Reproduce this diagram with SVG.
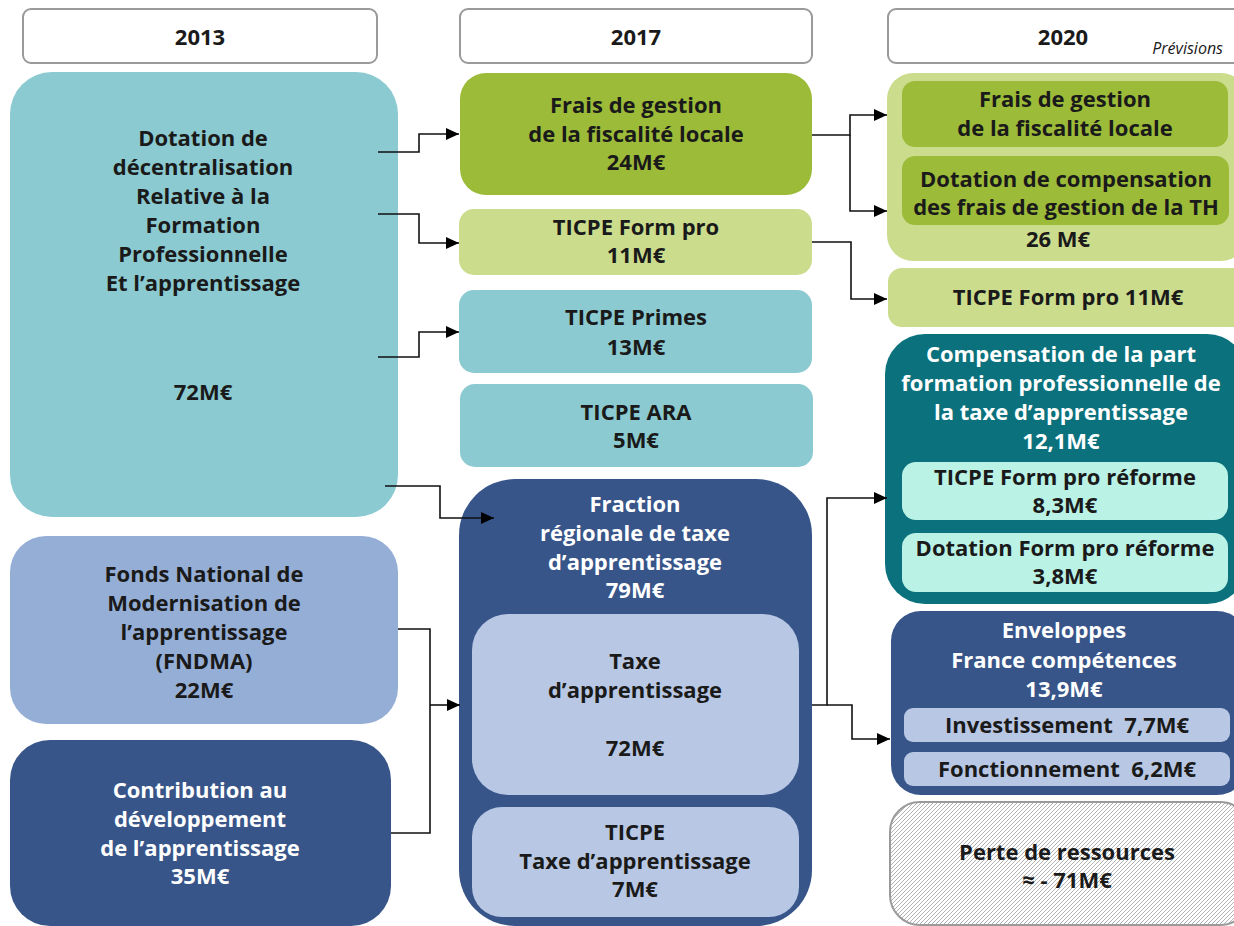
<svg xmlns="http://www.w3.org/2000/svg" width="1234" height="926" viewBox="0 0 1234 926">
<defs>
<style>
.t{font-family:"Open Sans","Liberation Sans",sans-serif;font-weight:700;font-size:22px;text-anchor:middle;fill:#1a1a1a}
.w{fill:#ffffff}
.pre{white-space:pre}
.hdr{fill:#ffffff;stroke:#9a9a9a;stroke-width:2}
.conn path{fill:none;stroke:#111;stroke-width:1.6}
</style>
<marker id="ah" markerUnits="userSpaceOnUse" markerWidth="13" markerHeight="12" refX="13" refY="6" orient="auto">
<path d="M0,0 L13,6 L0,12 z" fill="#000"/>
</marker>
<pattern id="hatch" patternUnits="userSpaceOnUse" width="4" height="4">
<rect width="4" height="4" fill="#ffffff"/>
<path d="M-1,1 L1,-1 M0,4 L4,0 M3,5 L5,3" stroke="#a0a0a0" stroke-width="0.8"/>
</pattern>
</defs>
<rect width="1234" height="926" fill="#ffffff"/>

<g id="headers">
<g id="h2013"><rect class="hdr" x="23" y="9" width="354" height="54" rx="8"/><text class="t" x="200" y="45">2013</text></g>
<g id="h2017"><rect class="hdr" x="460" y="9" width="352" height="54" rx="8"/><text class="t" x="636" y="45">2017</text></g>
<g id="h2020"><rect class="hdr" x="888" y="9" width="360" height="54" rx="8"/><text class="t" x="1063" y="45">2020</text>
<text x="1223" y="54" style="font-family:'Open Sans','Liberation Sans',sans-serif;font-style:italic;font-size:16px;text-anchor:end;fill:#1a1a1a">Prévisions</text></g>
</g>

<g id="n-dotation">
<rect x="10" y="72" width="388" height="445" rx="42" fill="#8BCAD0"/>
<text class="t"><tspan x="203" y="146">Dotation de</tspan><tspan x="203" y="175">décentralisation</tspan><tspan x="203" y="204">Relative à la</tspan><tspan x="203" y="233">Formation</tspan><tspan x="203" y="262">Professionnelle</tspan><tspan x="203" y="291">Et l’apprentissage</tspan><tspan x="203" y="400">72M€</tspan></text>
</g>

<g id="n-fndma">
<rect x="10" y="536" width="388" height="188" rx="36" fill="#95AED6"/>
<text class="t"><tspan x="204" y="582">Fonds National de</tspan><tspan x="204" y="611">Modernisation de</tspan><tspan x="204" y="640">l’apprentissage</tspan><tspan x="204" y="669">(FNDMA)</tspan><tspan x="204" y="698">22M€</tspan></text>
</g>

<g id="n-contribution">
<rect x="10" y="740" width="381" height="186" rx="40" fill="#38558A"/>
<text class="t w"><tspan x="200" y="798">Contribution au</tspan><tspan x="200" y="827">développement</tspan><tspan x="200" y="856">de l’apprentissage</tspan><tspan x="200" y="884">35M€</tspan></text>
</g>

<g id="n-frais2017">
<rect x="460" y="73" width="352" height="122" rx="26" fill="#9CBB39"/>
<text class="t"><tspan x="636" y="113">Frais de gestion</tspan><tspan x="636" y="142">de la fiscalité locale</tspan><tspan x="636" y="170">24M€</tspan></text>
</g>

<g id="n-formpro2017">
<rect x="459" y="209" width="353" height="66" rx="15" fill="#CBDC8D"/>
<text class="t"><tspan x="636" y="235">TICPE Form pro</tspan><tspan x="636" y="263">11M€</tspan></text>
</g>

<g id="n-primes">
<rect x="459" y="290" width="353" height="83" rx="15" fill="#8BCAD0"/>
<text class="t"><tspan x="636" y="325">TICPE Primes</tspan><tspan x="636" y="355">13M€</tspan></text>
</g>

<g id="n-ara">
<rect x="460" y="384" width="353" height="83" rx="15" fill="#8BCAD0"/>
<text class="t"><tspan x="636" y="420">TICPE ARA</tspan><tspan x="636" y="448">5M€</tspan></text>
</g>

<g id="n-fraction">
<rect x="459" y="479" width="353" height="447" rx="56" fill="#38558A"/>
<text class="t w"><tspan x="635" y="512">Fraction</tspan><tspan x="635" y="541">régionale de taxe</tspan><tspan x="635" y="570">d’apprentissage</tspan><tspan x="635" y="598">79M€</tspan></text>
<g id="n-taxe">
<rect x="472" y="614" width="327" height="181" rx="36" fill="#B8C8E4"/>
<text class="t"><tspan x="635" y="669">Taxe</tspan><tspan x="635" y="698">d’apprentissage</tspan><tspan x="635" y="756">72M€</tspan></text>
</g>
<g id="n-ticpe-taxe">
<rect x="472" y="807" width="327" height="110" rx="30" fill="#B8C8E4"/>
<text class="t"><tspan x="635" y="840">TICPE</tspan><tspan x="635" y="869">Taxe d’apprentissage</tspan><tspan x="635" y="897">7M€</tspan></text>
</g>
</g>

<g id="n-frais2020">
<rect x="887" y="73" width="360" height="188" rx="26" fill="#CBDC8D"/>
<g id="n-frais2020-a">
<rect x="902" y="81" width="326" height="66" rx="13" fill="#9CBB39"/>
<text class="t"><tspan x="1065" y="107">Frais de gestion</tspan><tspan x="1065" y="136">de la fiscalité locale</tspan></text>
</g>
<g id="n-frais2020-b">
<rect x="902" y="156" width="327" height="69" rx="13" fill="#9CBB39"/>
<text class="t"><tspan x="1066" y="187">Dotation de compensation</tspan><tspan x="1066" y="215">des frais de gestion de la TH</tspan></text>
</g>
<text class="t" x="1058" y="247">26 M€</text>
</g>

<g id="n-formpro2020">
<rect x="888" y="268" width="360" height="59" rx="14" fill="#CBDC8D"/>
<text class="t" x="1068" y="305">TICPE Form pro 11M€</text>
</g>

<g id="n-compensation">
<rect x="885" y="334" width="362" height="270" rx="40" fill="#0B727D"/>
<text class="t w"><tspan x="1061" y="362">Compensation de la part</tspan><tspan x="1061" y="391">formation professionnelle de</tspan><tspan x="1061" y="420">la taxe d’apprentissage</tspan><tspan x="1061" y="449">12,1M€</tspan></text>
<g id="n-ticpe-reforme">
<rect x="902" y="462" width="326" height="58" rx="14" fill="#BAF2E6"/>
<text class="t"><tspan x="1065" y="485">TICPE Form pro réforme</tspan><tspan x="1065" y="513">8,3M€</tspan></text>
</g>
<g id="n-dotation-reforme">
<rect x="902" y="533" width="326" height="59" rx="14" fill="#BAF2E6"/>
<text class="t"><tspan x="1065" y="556">Dotation Form pro réforme</tspan><tspan x="1065" y="584">3,8M€</tspan></text>
</g>
</g>

<g id="n-enveloppes">
<rect x="891" y="611" width="356" height="184" rx="30" fill="#38558A"/>
<text class="t w"><tspan x="1064" y="638">Enveloppes</tspan><tspan x="1064" y="668">France compétences</tspan><tspan x="1064" y="697">13,9M€</tspan></text>
<g id="n-invest">
<rect x="904" y="708" width="326" height="34" rx="9" fill="#B8C8E4"/>
<text class="t pre" x="1067" y="733">Investissement  7,7M€</text>
</g>
<g id="n-fonct">
<rect x="904" y="752" width="326" height="34" rx="9" fill="#B8C8E4"/>
<text class="t pre" x="1067" y="777">Fonctionnement  6,2M€</text>
</g>
</g>

<g id="n-perte">
<rect x="890" y="802" width="360" height="123" rx="30" fill="url(#hatch)" stroke="#9a9a9a" stroke-width="2"/>
<text class="t"><tspan x="1067" y="860">Perte de ressources</tspan><tspan x="1067" y="888">≈ - 71M€</tspan></text>
</g>

<g id="connectors" class="conn">
<path d="M378,152 H419 V134 H459" marker-end="url(#ah)"/>
<path d="M378,214 H419 V243 H459" marker-end="url(#ah)"/>
<path d="M378,357 H419 V332 H459" marker-end="url(#ah)"/>
<path d="M385,486 H440 V518 H494" marker-end="url(#ah)"/>
<path d="M398,629 H430 V833 H391"/>
<path d="M430,705 H460" marker-end="url(#ah)"/>
<path d="M812,135 H850 V115 H887" marker-end="url(#ah)"/>
<path d="M850,135 V211 H887" marker-end="url(#ah)"/>
<path d="M812,242 H851 V299 H887" marker-end="url(#ah)"/>
<path d="M812,705 H827 V498 H887" marker-end="url(#ah)"/>
<path d="M827,705 H852 V739 H890" marker-end="url(#ah)"/>
</g>
</svg>
